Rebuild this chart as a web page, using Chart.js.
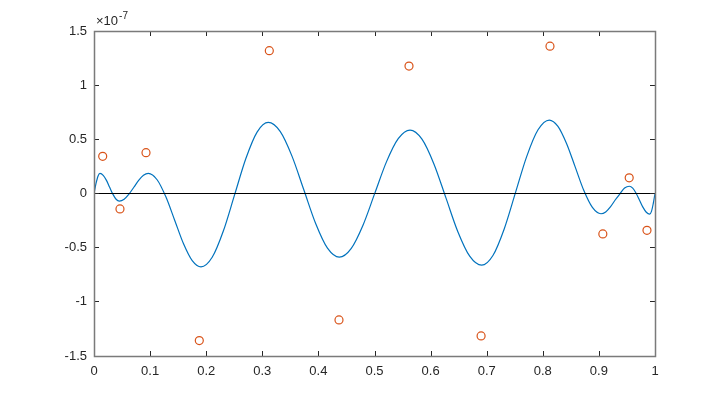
<!DOCTYPE html>
<html>
<head>
<meta charset="utf-8">
<script src="https://cdn.jsdelivr.net/npm/chart.js@4/dist/chart.umd.min.js"></script>
<style>
  body { margin: 0; background: #fff; }
  canvas { display: block; }
</style>
</head>
<body>
<canvas id="plot" width="725" height="400"></canvas>
<script>
// values in units of 1e-7
const curveX = [0, 0.0036, 0.0071, 0.0107,
  0.0164, 0.0222, 0.0279, 0.0336, 0.0394, 0.0451,
  0.0537, 0.0623, 0.071, 0.0796, 0.0882, 0.0968,
  0.1125, 0.1281, 0.1438, 0.1594, 0.1751, 0.1907,
  0.2107, 0.2307, 0.2507, 0.2707, 0.2907, 0.3107,
  0.3318, 0.3529, 0.374, 0.3951, 0.4162, 0.4373,
  0.4583, 0.4793, 0.5003, 0.5213, 0.5423, 0.5633,
  0.5846, 0.6059, 0.6272, 0.6484, 0.6697, 0.691,
  0.7111, 0.7312, 0.7513, 0.7714, 0.7915, 0.8116,
  0.827, 0.8423, 0.8577, 0.873, 0.8884, 0.9037,
  0.9121, 0.9205, 0.929, 0.9374, 0.9458, 0.9542,
  0.9603, 0.9663, 0.9724, 0.9784, 0.9845, 0.9905,
  0.9937, 0.9968, 1];
const curveY = [0, 0.0925, 0.16, 0.185,
  0.168, 0.121, 0.0575, -0.006, -0.053, -0.07,
  -0.053, -0.006, 0.0575, 0.121, 0.168, 0.185,
  0.127, -0.031, -0.2465, -0.462, -0.62, -0.678,
  -0.589, -0.3445, -0.011, 0.3225, 0.567, 0.656,
  0.573, 0.345, 0.034, -0.277, -0.505, -0.588,
  -0.509, -0.295, -0.0015, 0.292, 0.506, 0.585,
  0.5015, 0.273, -0.0385, -0.35, -0.5785, -0.662,
  -0.572, -0.327, 0.008, 0.343, 0.588, 0.678,
  0.62, 0.462, 0.2455, 0.029, -0.129, -0.187,
  -0.17, -0.1235, -0.06, -0.0035, 0.05, 0.067,
  0.05, 0.003, -0.0615, -0.126, -0.173, -0.19,
  -0.165, -0.095, 0];

const nodeX = [0.0155, 0.0463, 0.0927, 0.1877, 0.3125, 0.4367, 0.5615, 0.69, 0.8128, 0.907, 0.954, 0.9857];
const nodeY = [0.343, -0.142, 0.377, -1.358, 1.318, -1.167, 1.176, -1.315, 1.36, -0.373, 0.145, -0.34];

const xTicks = [0, 0.1, 0.2, 0.3, 0.4, 0.5, 0.6, 0.7, 0.8, 0.9, 1];
const yTicks = [-1.5, -1, -0.5, 0, 0.5, 1, 1.5];
const exponent = '-7';

const textColor = '#262626';
const font = { family: 'Liberation Sans, Arial, sans-serif', size: 13 };

// MATLAB style box with ticks pointing inward + the x10^-7 label
const boxPlugin = {
  id: 'box',
  afterDraw(chart) {
    const { ctx, chartArea: a, scales } = chart;
    ctx.save();
    ctx.strokeStyle = textColor;
    ctx.lineWidth = 1;
    ctx.beginPath();
    xTicks.forEach(v => {
      const px = Math.round(scales.x.getPixelForValue(v)) + 0.5;
      ctx.moveTo(px, a.bottom); ctx.lineTo(px, a.bottom - 5);
      ctx.moveTo(px, a.top); ctx.lineTo(px, a.top + 5);
    });
    yTicks.forEach(v => {
      const py = Math.floor(scales.y.getPixelForValue(v)) + 0.5;
      ctx.moveTo(a.left, py); ctx.lineTo(a.left + 5, py);
      ctx.moveTo(a.right, py); ctx.lineTo(a.right - 5, py);
    });
    ctx.stroke();
    ctx.strokeStyle = '#7a7a7a';
    ctx.lineWidth = 1.5;
    ctx.strokeRect(Math.round(a.left) + 0.5, Math.round(a.top) + 0.5,
      Math.round(a.right - a.left), Math.round(a.bottom - a.top));

    ctx.fillStyle = textColor;
    ctx.textBaseline = 'alphabetic';
    ctx.font = '13px Liberation Sans, Arial, sans-serif';
    const base = a.top - 6;
    ctx.fillText('\u00d710', a.left + 2, base);
    const w = ctx.measureText('\u00d710').width;
    ctx.font = '10px Liberation Sans, Arial, sans-serif';
    ctx.fillText(exponent, a.left + 2 + w + 1, base - 6);
    ctx.restore();
  }
};

new Chart(document.getElementById('plot'), {
  type: 'scatter',
  data: {
    datasets: [
      {
        label: 'zero',
        data: [{ x: 0, y: 0 }, { x: 1, y: 0 }],
        showLine: true,
        borderColor: '#000000',
        borderWidth: 1,
        pointRadius: 0,
        order: 0
      },
      {
        label: 'error',
        data: curveX.map((x, i) => ({ x: x, y: curveY[i] })),
        showLine: true,
        borderColor: '#0072BD',
        borderWidth: 1.2,
        pointRadius: 0,
        cubicInterpolationMode: 'monotone',
        order: 2
      },
      {
        label: 'nodes',
        data: nodeX.map((x, i) => ({ x: x, y: nodeY[i] })),
        showLine: false,
        borderColor: '#D95319',
        backgroundColor: 'rgba(0,0,0,0)',
        borderWidth: 1.2,
        pointRadius: 4,
        order: 1
      }
    ]
  },
  options: {
    responsive: false,
    animation: false,
    layout: { padding: { left: 0, right: 70, top: 31, bottom: 0 } },
    plugins: {
      legend: { display: false },
      tooltip: { enabled: false }
    },
    scales: {
      x: {
        type: 'linear',
        min: 0,
        max: 1,
        afterBuildTicks: s => { s.ticks = xTicks.map(v => ({ value: v })); },
        afterFit: s => { s.height = 44; },
        grid: { display: false, drawTicks: false },
        border: { display: false },
        ticks: {
          color: textColor,
          font: font,
          padding: 8,
          maxRotation: 0,
          callback: v => String(+v.toFixed(1))
        }
      },
      y: {
        type: 'linear',
        min: -1.5,
        max: 1.5,
        afterBuildTicks: s => { s.ticks = yTicks.map(v => ({ value: v })); },
        afterFit: s => { s.width = 94; },
        grid: { display: false, drawTicks: false },
        border: { display: false },
        ticks: {
          color: textColor,
          font: font,
          padding: 7,
          callback: v => String(+v.toFixed(1))
        }
      }
    }
  },
  plugins: [boxPlugin]
});
</script>
</body>
</html>
